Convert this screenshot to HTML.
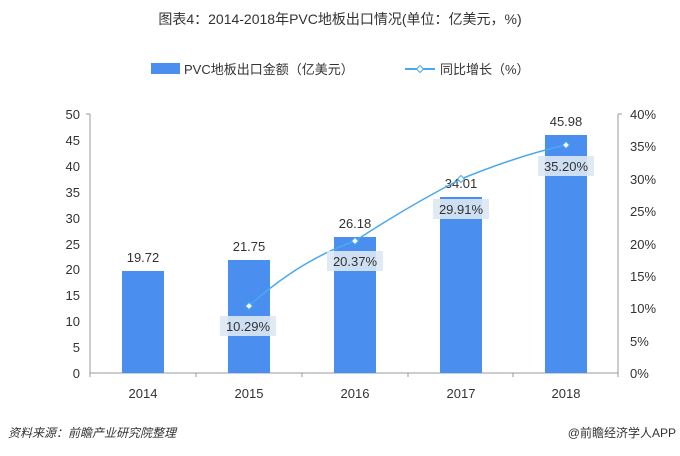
<!DOCTYPE html>
<html><head><meta charset="utf-8"><style>
body{margin:0;background:#fff;width:680px;height:451px;overflow:hidden;font-family:"Liberation Sans","Noto Sans CJK SC",sans-serif}
</style></head><body>
<svg width="680" height="451" xmlns="http://www.w3.org/2000/svg" font-family="Liberation Sans, Noto Sans CJK SC, sans-serif">
<text x="340" y="24" text-anchor="middle" font-size="14" fill="#333">图表4：2014-2018年PVC地板出口情况(单位：亿美元，%)</text>
<rect x="151" y="63" width="29" height="11" fill="#4a8fef"/>
<text x="184" y="74" font-size="13" fill="#333">PVC地板出口金额（亿美元）</text>
<line x1="405" y1="69" x2="435" y2="69" stroke="#4aa8f0" stroke-width="2"/>
<path d="M420 65.5 L423.5 69 L420 72.5 L416.5 69Z" fill="#fff" stroke="#4aa8f0"/>
<text x="440" y="74" font-size="13" fill="#333">同比增长（%）</text>
<g stroke="#999" stroke-width="1">
<line x1="90" y1="114" x2="90" y2="373"/><line x1="618" y1="114" x2="618" y2="373"/>
<line x1="90" y1="373" x2="618" y2="373"/>
<line x1="86" y1="114" x2="90" y2="114"/><line x1="618" y1="114" x2="622" y2="114"/>
<line x1="196" y1="373" x2="196" y2="377"/><line x1="302" y1="373" x2="302" y2="377"/><line x1="408" y1="373" x2="408" y2="377"/><line x1="513" y1="373" x2="513" y2="377"/><line x1="90" y1="373" x2="90" y2="377"/><line x1="618" y1="373" x2="618" y2="377"/>
</g>
<g font-size="13" fill="#333" text-anchor="end">
<text x="80" y="119">50</text><text x="80" y="145">45</text><text x="80" y="171">40</text><text x="80" y="197">35</text><text x="80" y="223">30</text><text x="80" y="249">25</text><text x="80" y="274">20</text><text x="80" y="300">15</text><text x="80" y="326">10</text><text x="80" y="352">5</text><text x="80" y="378">0</text>
</g>
<g font-size="13" fill="#333" text-anchor="start">
<text x="630" y="119">40%</text><text x="630" y="151">35%</text><text x="630" y="184">30%</text><text x="630" y="216">25%</text><text x="630" y="249">20%</text><text x="630" y="281">15%</text><text x="630" y="313">10%</text><text x="630" y="346">5%</text><text x="630" y="378">0%</text>
</g>
<g fill="#4a8fef">
<rect x="122" y="271" width="42" height="102"/>
<rect x="228" y="260" width="42" height="113"/>
<rect x="334" y="237" width="42" height="136"/>
<rect x="440" y="197" width="42" height="176"/>
<rect x="545" y="135" width="42" height="238"/>
</g>
<g font-size="13" fill="#333" text-anchor="middle">
<text x="143" y="262">19.72</text><text x="249" y="251">21.75</text><text x="355" y="228">26.18</text><text x="461" y="188">34.01</text><text x="566" y="126">45.98</text>
<text x="143" y="398">2014</text><text x="249" y="398">2015</text><text x="355" y="398">2016</text><text x="461" y="398">2017</text><text x="566" y="398">2018</text>
</g>
<path d="M249 306 Q300 260 355 241 Q410 205 461 179 Q520 155 566 145" fill="none" stroke="#4aa8f0" stroke-width="1.5"/>
<g fill="#fff" stroke="#4aa8f0">
<path d="M249 302.5L252.5 306L249 309.5L245.5 306Z"/><path d="M355 237.5L358.5 241L355 244.5L351.5 241Z"/><path d="M461 175.5L464.5 179L461 182.5L457.5 179Z"/><path d="M566 141.5L569.5 145L566 148.5L562.5 145Z"/>
</g>
<g fill="#dde8f3" opacity="0.9">
<rect x="220" y="316" width="56" height="20"/><rect x="327" y="251" width="56" height="20"/><rect x="433" y="199" width="56" height="20"/><rect x="538" y="156" width="56" height="20"/>
</g>
<g font-size="13" fill="#333" text-anchor="middle">
<text x="248" y="331">10.29%</text><text x="355" y="266">20.37%</text><text x="461" y="214">29.91%</text><text x="566" y="171">35.20%</text>
</g>
<text x="8" y="437" font-size="12" font-style="italic" fill="#333">资料来源：前瞻产业研究院整理</text>
<text x="676" y="437" font-size="12" fill="#333" text-anchor="end">@前瞻经济学人APP</text>
</svg>
</body></html>
